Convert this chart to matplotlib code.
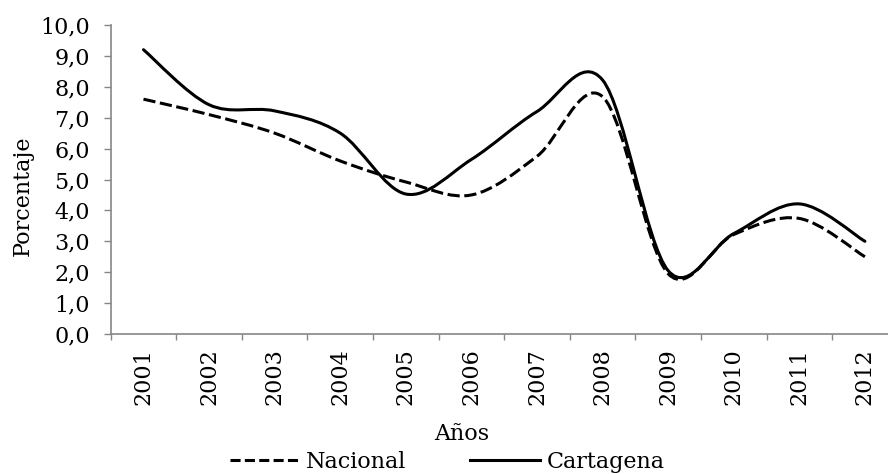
import matplotlib.pyplot as plt
from matplotlib.path import Path
from matplotlib.patches import PathPatch
from matplotlib.ticker import FuncFormatter
from matplotlib.lines import Line2D

plt.rcParams['font.family'] = ['DejaVu Serif']

anios = [2001, 2002, 2003, 2004, 2005, 2006, 2007, 2008, 2009, 2010, 2011, 2012]
nacional = [7.6, 7.1, 6.5, 5.6, 4.92, 4.5, 5.75, 7.68, 1.95, 3.22, 3.74, 2.5]
cartagena = [9.2, 7.42, 7.22, 6.5, 4.53, 5.65, 7.2, 8.22, 2.05, 3.25, 4.21, 3.0]

GRIS = '#868686'
FS = 16


def curva_suave(xs, ys):
    # bezier tipo excel (catmull-rom), los puntos de datos son los anclajes
    pts = list(zip(xs, ys))
    n = len(pts)
    verts = [pts[0]]
    codes = [Path.MOVETO]
    for i in range(n - 1):
        p0 = pts[i - 1] if i > 0 else pts[i]
        p1 = pts[i]
        p2 = pts[i + 1]
        p3 = pts[i + 2] if i + 2 < n else pts[i + 1]
        c1 = (p1[0] + (p2[0] - p0[0]) / 6, p1[1] + (p2[1] - p0[1]) / 6)
        c2 = (p2[0] - (p3[0] - p1[0]) / 6, p2[1] - (p3[1] - p1[1]) / 6)
        verts += [c1, c2, p2]
        codes += [Path.CURVE4] * 3
    return Path(verts, codes)


fig = plt.figure(figsize=(8.88, 4.74), dpi=100)
# el area de trazado se sale un poco por la derecha, como en el original
ax = fig.add_axes([110.7 / 888, 1 - 334 / 474, 787 / 888, 309 / 474])

estilo_nac = (0, (4.0, 1.5))
ax.add_patch(PathPatch(curva_suave(anios, nacional), fill=False, edgecolor='black',
                       lw=2.2, linestyle=estilo_nac, capstyle='butt'))
ax.add_patch(PathPatch(curva_suave(anios, cartagena), fill=False, edgecolor='black',
                       lw=2.2, capstyle='round'))

ax.set_xlim(anios[0] - 0.5, anios[-1] + 0.5)
ax.set_ylim(0, 10)
ax.set_yticks(range(0, 11))
ax.yaxis.set_major_formatter(FuncFormatter(lambda v, p: f'{v:.1f}'.replace('.', ',')))
ax.set_xticks(anios)
ax.set_xticklabels([str(a) for a in anios], rotation=90)
ax.set_xticks([a - 0.5 for a in anios] + [anios[-1] + 0.5], minor=True)
ax.tick_params(axis='x', which='major', length=0, pad=10, labelsize=FS)
ax.tick_params(axis='x', which='minor', length=4.5, color=GRIS, width=1)
ax.tick_params(axis='y', length=5, color=GRIS, width=1, labelsize=FS, pad=10)

for lado in ['top', 'right']:
    ax.spines[lado].set_visible(False)
for lado in ['left', 'bottom']:
    ax.spines[lado].set_color(GRIS)
    ax.spines[lado].set_linewidth(1.2)

fig.text(23 / 888, 1 - 196 / 474, 'Porcentaje', rotation=90, ha='center', va='center', fontsize=FS)
fig.text(462 / 888, 1 - 434 / 474, 'Años', ha='center', va='center', fontsize=FS)

manejadores = [
    Line2D([], [], color='black', lw=2.2, linestyle=(0, (3.3, 1.4))),
    Line2D([], [], color='black', lw=2.2),
]
fig.legend(manejadores, ['Nacional', 'Cartagena'], loc='center', bbox_to_anchor=(447 / 888, 1 - 462 / 474),
           ncol=2, frameon=False, fontsize=FS, handlelength=3.15, handletextpad=0.27,
           columnspacing=2.9, borderpad=0, borderaxespad=0)

fig.savefig('out.png', dpi=100)
